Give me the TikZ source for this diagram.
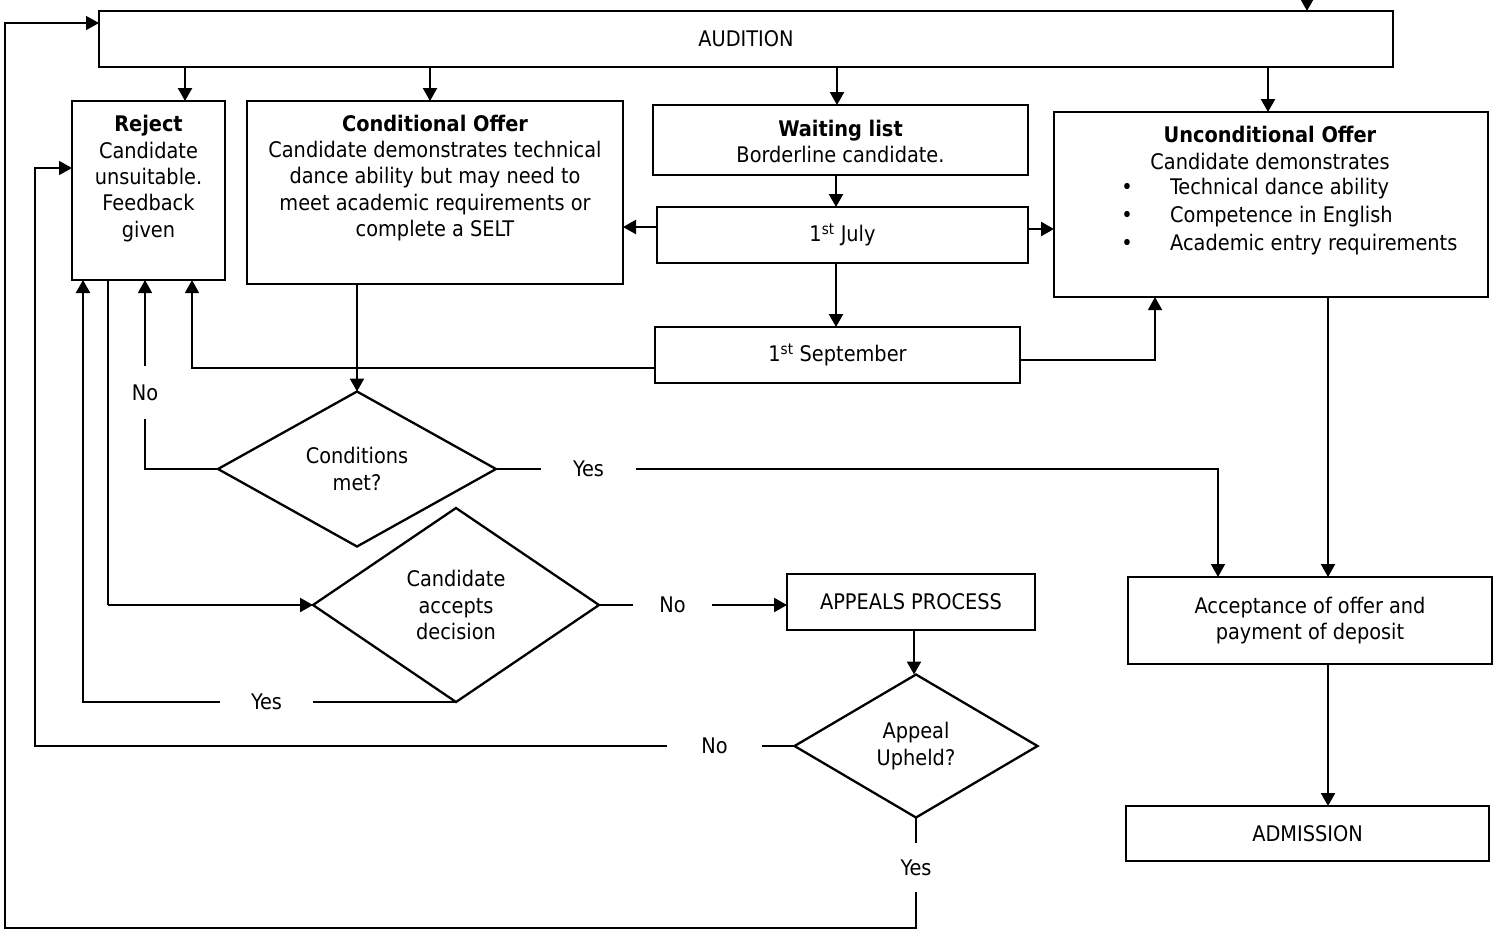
\documentclass[tikz,border=0pt]{standalone}
\usepackage{fontspec}
\setmainfont{DejaVu Sans Condensed}
\usetikzlibrary{arrows.meta,shapes.geometric}
\begin{document}
\begin{tikzpicture}[x=1pt,y=-1pt,
  every node/.style={font=\fontsize{21.5}{26.3}\selectfont},
  box/.style={draw,line width=2.3pt,inner sep=0pt,outer sep=0pt,align=center},
  dia/.style={draw,diamond,line width=2.3pt,inner sep=0pt,outer sep=0pt,align=center},
  txt/.style={inner sep=0pt,align=center},
  lbl/.style={inner sep=0pt,align=center},
  arr/.style={line width=2.3pt,-{Triangle[length=13pt,width=14pt]}},
  tarr/.style={line width=1.4pt,-{Triangle[length=13pt,width=14pt]}},
  thk/.style={line width=2.3pt},
  thn/.style={line width=1.4pt}]
\useasboundingbox (0,0) rectangle (1495,932);
% boxes
\node[box,minimum width=1294pt,minimum height=56pt] (aud) at (746,39) {AUDITION};
\node[box,minimum width=153pt,minimum height=179pt] (rej) at (148.5,190.5) {};
\node[txt] (rejT) at (148.5,178.5) {\textbf{Reject}\\Candidate\\unsuitable.\\Feedback\\given};
\node[box,minimum width=376pt,minimum height=183pt] (cond) at (435,192.5) {};
\node[txt] (condT) at (435,178) {\textbf{Conditional Offer}\\Candidate demonstrates technical\\dance ability but may need to\\meet academic requirements or\\complete a SELT};
\node[box,minimum width=375pt,minimum height=70pt] (wait) at (840.5,140) {};
\node[txt] (waitT) at (840.5,141.5) {\textbf{Waiting list}\\Borderline candidate.};
\node[box,minimum width=371pt,minimum height=56pt] (july) at (842.5,235) {1\textsuperscript{st} July};
\node[box,minimum width=365pt,minimum height=56pt] (sept) at (837.5,355) {1\textsuperscript{st} September};
\node[box,minimum width=434pt,minimum height=185pt] (unc) at (1271,204.5) {};
\node[txt] (uncT) at (1270,148) {\textbf{Unconditional Offer}\\Candidate demonstrates};
\node[txt] (ub1) at (1127,189) {\textbullet};
\node[txt] (ub2) at (1127,217) {\textbullet};
\node[txt] (ub3) at (1127,245) {\textbullet};
\node[txt,anchor=west] (ut1) at (1170,189) {Technical dance ability};
\node[txt,anchor=west] (ut2) at (1170,217) {Competence in English};
\node[txt,anchor=west] (ut3) at (1170,245) {Academic entry requirements};
\node[box,minimum width=364pt,minimum height=87pt] (acc) at (1310,620.5) {Acceptance of offer and\\payment of deposit};
\node[box,minimum width=363pt,minimum height=55pt] (adm) at (1307.5,833.5) {ADMISSION};
\node[box,minimum width=248pt,minimum height=56pt] (app) at (911,602) {APPEALS PROCESS};
% diamonds
\node[dia,minimum width=278pt,minimum height=155pt] (cm) at (357,469) {Conditions\\met?};
\node[dia,minimum width=286pt,minimum height=194pt] (ca) at (456,605) {Candidate\\accepts\\decision};
\node[dia,minimum width=243pt,minimum height=143pt] (au) at (916,746) {Appeal\\Upheld?};
% labels
\node[lbl,minimum height=53pt] (noA) at (145,392.5) {No};
\node[lbl,minimum width=95pt] (yesA) at (588.5,469) {Yes};
\node[lbl,minimum width=93pt] (yesB) at (266.5,702) {Yes};
\node[lbl,minimum width=79pt] (noB) at (672.5,605) {No};
\node[lbl,minimum width=95pt] (noC) at (714.5,746) {No};
\node[lbl,minimum height=49pt] (yesC) at (916,867.5) {Yes};
% helper coordinates
\coordinate (x83) at (83,0);
\coordinate (x108) at (108,0);
\coordinate (x185) at (185,0);
\coordinate (x192) at (192,0);
\coordinate (x430) at (430,0);
\coordinate (x836) at (836,0);
\coordinate (x837) at (837,0);
\coordinate (x914) at (914,0);
\coordinate (x1155) at (1155,0);
\coordinate (x1218) at (1218,0);
\coordinate (x1268) at (1268,0);
\coordinate (x1328) at (1328,0);
\coordinate (topin) at (1307,-4);
\coordinate (lb) at (5,928);
\coordinate (lt) at (5,23);
\coordinate (mb) at (35,746);
\coordinate (mt) at (35,168);
\coordinate (rb) at (108,605);
\coordinate (j1) at (657,227);
\coordinate (j2) at (1028,229);
\coordinate (s1) at (655,368);
\coordinate (s2) at (1020,360);
% connectors from audition
\draw[arr] (topin) -- (aud.north -| topin);
\draw[arr] (aud.south -| x185) -- (rej.north -| x185);
\draw[arr] (aud.south -| x430) -- (cond.north -| x430);
\draw[arr] (aud.south -| x837) -- (wait.north -| x837);
\draw[arr] (aud.south -| x1268) -- (unc.north -| x1268);
% waiting list
\draw[arr] (wait.south -| x836) -- (july.north -| x836);
\draw[arr] (j1) -- (cond.east |- j1);
\draw[arr] (j2) -- (unc.west |- j2);
\draw[arr] (july.south -| x836) -- (sept.north -| x836);
\draw[tarr] (s1) -| (rej.south -| x192);
\draw[tarr] (s2) -| (unc.south -| x1155);
% offers
\draw[arr] (cm.north |- cond.south) -- (cm.north);
\draw[arr] (unc.south -| x1328) -- (acc.north -| x1328);
\draw[arr] (acc.south -| x1328) -- (adm.north -| x1328);
% conditions met
\draw[thn] (cm.west) -| (noA.south);
\draw[tarr] (noA.north) -- (noA.north |- rej.south);
\draw[thn] (cm.east) -- (yesA.west);
\draw[tarr] (yesA.east) -| (acc.north -| x1218);
% candidate accepts
\draw[thn] (rej.south -| x108) -- (rb);
\draw[arr] (rb) -- (ca.west);
\draw[thn] (ca.south) -- (yesB.east);
\draw[arr] (yesB.west) -| (rej.south -| x83);
\draw[thk] (ca.east) -- (noB.west);
\draw[arr] (noB.east) -- (app.west |- noB.east);
% appeal
\draw[arr] (app.south -| x914) -- (au.north -| x914);
\draw[thn] (au.west) -- (noC.east);
\draw[tarr] (noC.west) -- (mb) -- (mt) -- (rej.west |- mt);
\draw[thn] (au.south) -- (yesC.north);
\draw[tarr] (yesC.south) |- (lb) -- (lt) -- (aud.west |- lt);
\end{tikzpicture}
\end{document}
